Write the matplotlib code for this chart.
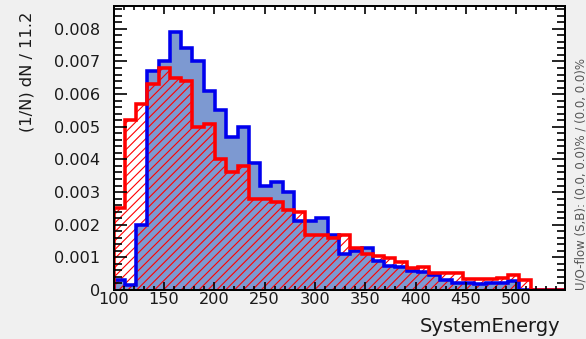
#!/usr/bin/env python3
'''
TMVA-style input variable plot: SystemEnergy, signal vs background.
'''

import numpy as np
import matplotlib
matplotlib.use('Agg')
import matplotlib.pyplot as plt
from matplotlib.ticker import MultipleLocator, FuncFormatter

## binning
x_min = 100.
bin_width = 11.2

## normalised bin contents, (1/N) dN per bin
signal = [0.0003, 0.00015, 0.0020, 0.0067, 0.0070, 0.0079, 0.0074, 0.0070,
          0.0061, 0.0055, 0.0047, 0.0050, 0.0039, 0.0032, 0.0033, 0.0030,
          0.0021, 0.0021, 0.0022, 0.0017, 0.0011, 0.0012, 0.0013, 0.0009,
          0.00075, 0.0007, 0.00058, 0.00055, 0.00045, 0.0003, 0.0002, 0.0002,
          0.00018, 0.0002, 0.00022, 0.00027, 0.0, 0.0, 0.0, 0.0]
background = [0.0025, 0.0052, 0.0057, 0.0063, 0.0068, 0.0065, 0.0064, 0.0050,
              0.0051, 0.0040, 0.0036, 0.0038, 0.0028, 0.0028, 0.0027, 0.00245,
              0.0024, 0.0017, 0.0017, 0.0016, 0.0017, 0.0013, 0.0011, 0.00105,
              0.00098, 0.00087, 0.00066, 0.00071, 0.00052, 0.00052, 0.00052, 0.00033,
              0.00033, 0.00033, 0.00038, 0.00045, 0.00032, 0.0, 0.0, 0.0]

xlabel = 'SystemEnergy'
ylabel = '(1/N) dN / 11.2'
oflow_text = 'U/O-flow (S,B): (0.0, 0.0)% / (0.0, 0.0)%'

## style
dpi = 80
bg = '#f0f0f0'
sig_fill = '#7d99d1'
sig_line = '#0000ee'
bkg_line = '#ff0000'
plt.rcParams['font.family'] = ['DejaVu Sans']
plt.rcParams['hatch.linewidth'] = 1.0

edges = x_min + bin_width * np.arange(len(signal) + 1)

fig = plt.figure(figsize=(586 / dpi, 339 / dpi), dpi=dpi, facecolor=bg)
ax = fig.add_axes([113.5 / 586, 1 - 290 / 339, 451 / 586, 284 / 339])
ax.set_facecolor('white')

# signal: filled, background: hatched on top
ax.stairs(signal, edges, fill=True, color=sig_fill, lw=0)
ax.stairs(background, edges, fill=True, facecolor='none', edgecolor=bkg_line,
          hatch='///', lw=0)
ax.stairs(signal, edges, color=sig_line, lw=3.2)
ax.stairs(background, edges, color=bkg_line, lw=3.2)

ax.set_xlim(edges[0], edges[-1])
ax.set_ylim(0, 0.0087)

ax.xaxis.set_major_locator(MultipleLocator(50))
ax.xaxis.set_minor_locator(MultipleLocator(10))
ax.yaxis.set_major_locator(MultipleLocator(0.001))
ax.yaxis.set_minor_locator(MultipleLocator(0.0002))
ax.yaxis.set_major_formatter(FuncFormatter(lambda v, p: '0' if abs(v) < 1e-9 else '%.3f' % v))
ax.xaxis.set_major_formatter(FuncFormatter(lambda v, p: '%d' % v if v <= 500 else ''))

ax.tick_params(axis='both', which='both', direction='in', top=True, right=True,
               width=1.5, color='black', labelcolor='#1a1a1a', labelsize=14.5)
ax.tick_params(axis='y', which='major', length=11.5, pad=12)
ax.tick_params(axis='y', which='minor', length=7)
ax.tick_params(axis='x', which='major', length=7, pad=2)
ax.tick_params(axis='x', which='minor', length=4)
for s in ax.spines.values():
    s.set_linewidth(1.8)
    s.set_zorder(5)

fig.text(27 / 586, 1 - 12 / 339, ylabel, rotation=90, ha='center', va='top',
         fontsize=14.6, color='#1a1a1a')
fig.text(560 / 586, 1 - 326 / 339, xlabel, ha='right', va='center',
         fontsize=17.5, color='#1a1a1a')
fig.text(581 / 586, 1 - 290 / 339, oflow_text, rotation=90, ha='center', va='bottom',
         fontsize=10.6, color='#555555')

plt.savefig('out.png', dpi=dpi, facecolor=bg)
